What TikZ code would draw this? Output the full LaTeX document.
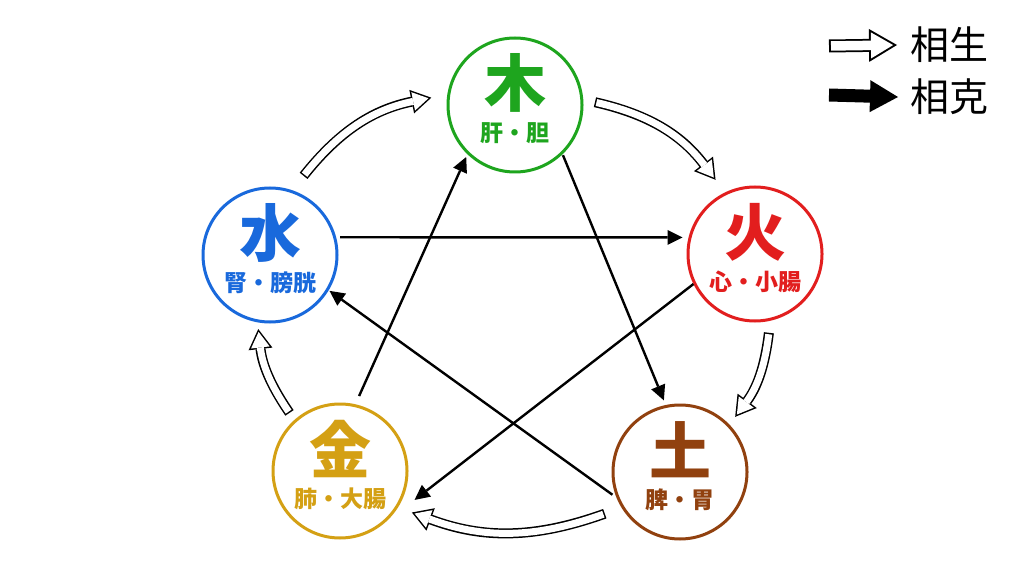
\documentclass[tikz,border=0pt]{standalone}
\usepackage{fontspec}
\newfontfamily\jp{Noto Sans CJK JP}
\usetikzlibrary{calc,arrows.meta,positioning}

\definecolor{mucol}{RGB}{30,165,30}
\definecolor{huocol}{RGB}{226,30,30}
\definecolor{tucol}{RGB}{145,65,15}
\definecolor{jincol}{RGB}{212,160,20}
\definecolor{shuicol}{RGB}{25,105,220}

\tikzset{
  xing/.style={circle, draw=#1, line width=3pt, minimum size=134pt, inner sep=0pt, fill=white},
  dazi/.style={font=\jp\bfseries\fontsize{62}{62}\selectfont, text=#1, inner sep=0pt},
  xiaozi/.style={font=\jp\bfseries\fontsize{23}{23}\selectfont, text=#1, inner sep=0pt},
  tuli/.style={font=\jp\fontsize{39}{39}\selectfont, anchor=west, inner sep=0pt},
  ke/.style={line width=2.4pt, -{Triangle[length=15pt,width=15pt,line width=0pt]}},
  sheng/.style={line width=10pt, -{Triangle[length=20pt,width=24pt,line width=0pt]},
    postaction={draw=white, line width=7pt, shorten <=1.5pt, shorten >=2.9pt,
      -{Triangle[length=15.6pt,width=18.7pt,line width=0pt]}}},
  shengda/.style={line width=13pt, -{Triangle[length=28pt,width=33pt,line width=0pt]},
    postaction={draw=white, line width=9.5pt, shorten <=2pt, shorten >=3.9pt,
      -{Triangle[length=22.1pt,width=26pt,line width=0pt]}}},
  keda/.style={line width=13pt, -{Triangle[length=28pt,width=32pt,line width=0pt]}},
}

\begin{document}
\begin{tikzpicture}[x=1pt,y=1pt]
    \useasboundingbox[fill=white] (0,0) rectangle (1024,576);

    % five circles
    \node[xing=mucol] (mu) at (515,471) {};
    \node[xing=huocol] (huo) at (755,322) {};
    \node[xing=tucol] (tu) at (680,104) {};
    \node[xing=jincol] (jin) at (340,105) {};
    \node[xing=shuicol] (shui) at (270,321) {};

    \node[dazi=mucol] (muT) at ([yshift=22pt]mu.center) {木};
    \node[xiaozi=mucol] (muS) at ([yshift=-28pt]mu.center) {肝・胆};
    \node[dazi=huocol] (huoT) at ([yshift=22pt]huo.center) {火};
    \node[xiaozi=huocol] (huoS) at ([yshift=-28pt]huo.center) {心・小腸};
    \node[dazi=tucol] (tuT) at ([yshift=22pt]tu.center) {土};
    \node[xiaozi=tucol] (tuS) at ([yshift=-28pt]tu.center) {脾・胃};
    \node[dazi=jincol] (jinT) at ([yshift=22pt]jin.center) {金};
    \node[xiaozi=jincol] (jinS) at ([yshift=-28pt]jin.center) {肺・大腸};
    \node[dazi=shuicol] (shuiT) at ([yshift=22pt]shui.center) {水};
    \node[xiaozi=shuicol] (shuiS) at ([yshift=-28pt]shui.center) {腎・膀胱};

    % sheng (outer ring)
    \draw[sheng] ($(shui)+(67:86)$) to[bend left=20] ($(mu)+(175:84)$);
    \draw[sheng] ($(mu)+(2:80)$) to[bend left=20] ($(huo)+(118:84)$);
    \draw[sheng] ($(huo)+(280:80)$) to[bend left=15] ($(tu)+(45:78)$);
    \draw[sheng] ($(tu)+(209:86)$) to[bend left=20] ($(jin)+(330:83)$);
    \draw[sheng] ($(jin)+(131:77)$) to[bend left=14] ($(shui)+(261:75)$);

    % ke (star)
    \draw[ke, shorten <=4pt, shorten >=6pt] (shui.15) -- (huo.166);
    \draw[ke, shorten >=41pt] (huo.206) -- (jin.308);
    \draw[ke, shorten <=5pt, shorten >=1pt] (tu.202) -- (shui.329);
    \draw[ke, shorten <=9pt, shorten >=3pt] (jin.77) -- (mu.226);
    \draw[ke, shorten <=1pt, shorten >=5pt] (mu.314) -- (tu.102);

    % legend
    \node[tuli] (shengT) at (910,531) {相生};
    \node[tuli] (keT) at (910,479) {相克};
    \coordinate (shengA) at (829,530);
    \coordinate (keA) at (829,481);
    \draw[shengda] (shengA) -- ([xshift=-13pt]shengT.west);
    \draw[keda] (keA) -- ([xshift=-12pt]keT.west);
\end{tikzpicture}
\end{document}
